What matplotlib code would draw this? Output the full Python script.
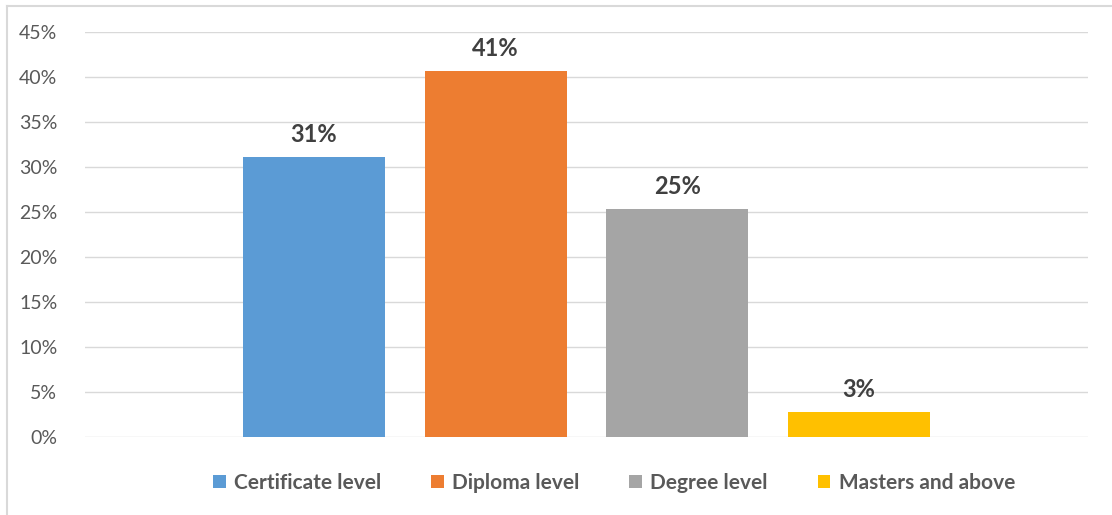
import matplotlib.pyplot as plt
from matplotlib.lines import Line2D
from matplotlib.ticker import FuncFormatter

categories = ['Certificate level', 'Diploma level', 'Degree level', 'Masters and above']
values = [0.311, 0.407, 0.253, 0.028]
labels = ['31%', '41%', '25%', '3%']
colors = ['#5b9bd5', '#ed7d31', '#a5a5a5', '#ffc000']

plt.rcParams['font.family'] = ['Lato', 'DejaVu Sans']

W, H = 1112, 515
fig = plt.figure(figsize=(W / 100, H / 100), dpi=100)
ax = fig.add_axes([85 / W, 1 - 437 / H, (1088 - 85) / W, (437 - 32) / H])

x = list(range(len(categories)))
bars = ax.bar(x, values, width=0.78, color=colors, label=categories, zorder=3)
for b, lab in zip(bars, labels):
    ax.annotate(lab, (b.get_x() + b.get_width() / 2, b.get_height()),
                xytext=(0, 8), textcoords='offset points', ha='center', va='bottom',
                fontsize=17, fontweight='bold', color='#404040')

ax.set_xlim(-1.26, 4.26)
ax.set_ylim(0, 0.45)
ax.set_yticks([i * 0.05 for i in range(10)])
ax.yaxis.set_major_formatter(FuncFormatter(lambda v, p: f'{v * 100:.0f}%'))
ax.set_xticks([])
ax.grid(axis='y', color='#d9d9d9', linewidth=1, zorder=0)
for s in ax.spines.values():
    s.set_visible(False)
ax.tick_params(axis='y', length=0, labelsize=14, labelcolor='#595959', pad=20)

leg = fig.legend(handles=bars, labels=categories, loc='center', bbox_to_anchor=(614 / W, 1 - 483 / H),
                 ncol=4, frameon=False, handlelength=0.6, handleheight=0.6, handletextpad=0.4,
                 columnspacing=2.4, prop={'size': 15, 'weight': 'bold'})
for t in leg.get_texts():
    t.set_color('#595959')

# chart border (left and top visible)
fig.add_artist(Line2D([7 / W, 7 / W], [0, 1 - 6 / H], color='#d9d9d9', linewidth=1.5))
fig.add_artist(Line2D([7 / W, 1], [1 - 6 / H, 1 - 6 / H], color='#d9d9d9', linewidth=1.5))

fig.savefig('out.png', dpi=100)
